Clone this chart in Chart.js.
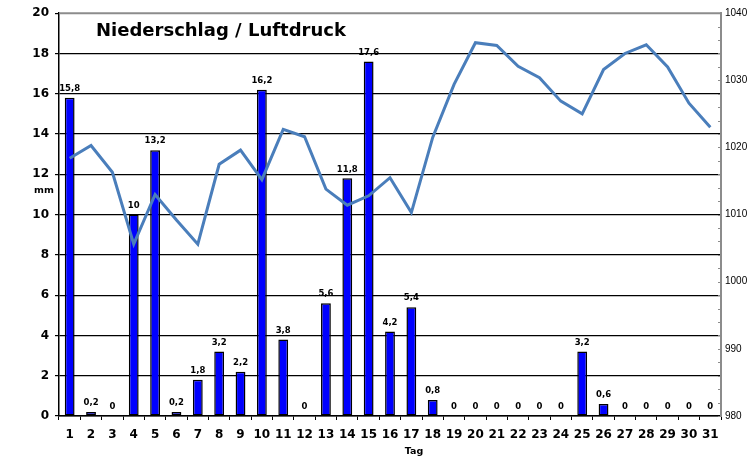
<!DOCTYPE html>
<html>
<head>
<meta charset="utf-8">
<script src="https://cdn.jsdelivr.net/npm/chart.js@4"></script>
<style>
html,body{margin:0;padding:0;background:#fff;}
#wrap{width:752px;height:459px;position:relative;}
</style>
</head>
<body>
<div id="wrap"><canvas id="c" width="752" height="459"></canvas></div>
<script>
const days = ['1','2','3','4','5','6','7','8','9','10','11','12','13','14','15','16','17','18','19','20','21','22','23','24','25','26','27','28','29','30','31'];
const niederschlag = [15.8,0.2,0,10,13.2,0.2,1.8,3.2,2.2,16.2,3.8,0,5.6,11.8,17.6,4.2,5.4,0.8,0,0,0,0,0,0,3.2,0.6,0,0,0,0,0];
const luftdruck = [1018.4,1020.3,1016.3,1005.6,1013.0,1009.2,1005.6,1017.5,1019.6,1015.2,1022.7,1021.6,1013.8,1011.4,1012.8,1015.5,1010.3,1021.5,1029.4,1035.6,1035.2,1032.1,1030.4,1026.9,1025.0,1031.6,1034.0,1035.3,1032.0,1026.6,1023.0];
const titleText = 'Niederschlag / Luftdruck';
const yUnit = 'mm';
const xTitle = 'Tag';

const FONT = "'DejaVu Sans', Verdana, sans-serif";

const overlay = {
  id: 'overlay',
  beforeDatasetsDraw(chart) {
    const ctx = chart.ctx, a = chart.chartArea;
    ctx.save();
    ctx.strokeStyle = '#8c8c8c';
    ctx.lineWidth = 2;
    ctx.beginPath();
    ctx.moveTo(a.left, a.top);
    ctx.lineTo(a.right + 1, a.top);
    ctx.stroke();
    const y2 = chart.scales.y2;
    ctx.lineWidth = 1;
    for (let v = y2.min; v <= y2.max; v += 2) {
      const py = Math.round(y2.getPixelForValue(v)) + 0.5;
      ctx.beginPath();
      ctx.moveTo(a.right - 3, py);
      ctx.lineTo(a.right, py);
      ctx.stroke();
    }
    ctx.restore();
  },
  afterDatasetsDraw(chart) {
    const ctx = chart.ctx;
    ctx.save();
    const meta = chart.getDatasetMeta(0);
    ctx.fillStyle = '#000';
    ctx.font = "bold 8.5px " + FONT;
    ctx.textAlign = 'center';
    ctx.textBaseline = 'middle';
    meta.data.forEach((el, i) => {
      const v = niederschlag[i];
      ctx.fillText(String(v).replace('.', ','), el.x, el.y - 9);
    });
    ctx.font = "bold 18px " + FONT;
    ctx.textAlign = 'left';
    ctx.fillText(titleText, 96, 31);
    ctx.font = "bold 9.5px " + FONT;
    ctx.textAlign = 'center';
    ctx.fillText(yUnit, 44, 191);
    ctx.fillText(xTitle, 414, 452);
    ctx.restore();
  }
};

new Chart(document.getElementById('c'), {
  type: 'bar',
  data: {
    labels: days,
    datasets: [
      {
        type: 'bar',
        label: 'Niederschlag',
        data: niederschlag,
        yAxisID: 'y',
        backgroundColor: '#0000FF',
        borderColor: '#000',
        borderWidth: 1.5,
        borderSkipped: false,
        barPercentage: 0.46,
        categoryPercentage: 1,
        order: 2
      },
      {
        type: 'line',
        label: 'Luftdruck',
        data: luftdruck,
        yAxisID: 'y2',
        borderColor: '#4A7EBB',
        borderWidth: 3,
        pointRadius: 0,
        tension: 0,
        fill: false,
        order: 1
      }
    ]
  },
  options: {
    responsive: false,
    animation: false,
    devicePixelRatio: 1,
    layout: { padding: { top: 12, left: 0, right: 0, bottom: 0 } },
    plugins: { legend: { display: false }, tooltip: { enabled: false }, title: { display: false } },
    scales: {
      x: {
        offset: true,
        grid: { display: true, drawOnChartArea: false, drawTicks: true, tickLength: 4, color: '#000', lineWidth: 1, offset: true },
        border: { display: true, color: '#000', width: 1.5 },
        ticks: { color: '#000', font: { family: FONT, size: 12, weight: 'bold' }, padding: 8, maxRotation: 0, autoSkip: false },
        afterFit(s) { s.height = 43; }
      },
      y: {
        position: 'left',
        min: 0, max: 20,
        ticks: { stepSize: 2, color: '#000', font: { family: FONT, size: 12, weight: 'bold' }, padding: 6 },
        grid: {
          color: (c) => (c.tick && c.tick.value === 20) ? 'rgba(0,0,0,0)' : '#000',
          lineWidth: 1.2,
          tickLength: 4,
          tickColor: '#000'
        },
        border: { display: true, color: '#000', width: 1.5 },
        afterFit(s) { s.width = 59; }
      },
      y2: {
        position: 'right',
        min: 980, max: 1040,
        ticks: { stepSize: 10, color: '#000', font: { family: "'Liberation Sans', Arial, sans-serif", size: 10 }, padding: 4, callback: (v) => String(v) },
        grid: { drawOnChartArea: false, drawTicks: false },
        border: { display: true, color: '#8c8c8c', width: 2 },
        afterFit(s) { s.width = 31; }
      }
    }
  },
  plugins: [overlay]
});
</script>
</body>
</html>
